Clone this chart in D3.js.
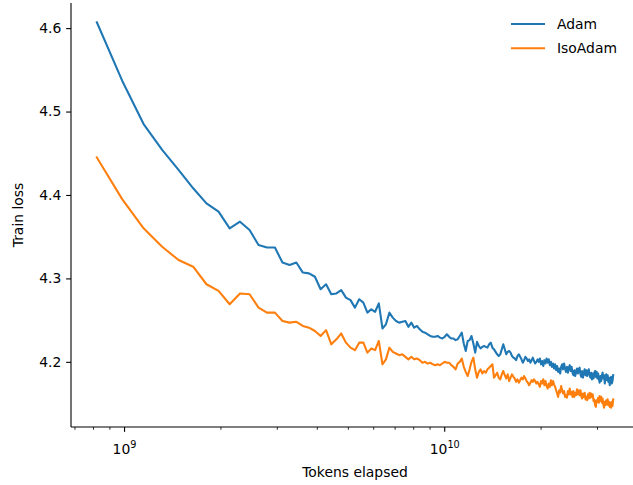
<!DOCTYPE html>
<html><head><meta charset="utf-8">
<script src="https://cdn.jsdelivr.net/npm/d3@7"></script>
<style>
html,body{margin:0;padding:0;background:#fff;}
svg{display:block;}
text{font-family:"DejaVu Sans",sans-serif;fill:#000;}
</style></head>
<body>
<svg id="chart" width="633" height="485"></svg>
<script>
// Tokens elapsed = step index * tokens per step
const tokensPerStep = 1.6384e8;
const firstStep = 5;

const seriesNames = ["Adam", "IsoAdam"];
const seriesColors = ["#1f77b4", "#ff7f0e"];

const adam = [
4.607,4.537,4.485,4.454,4.430,4.408,4.390,4.380,4.360,4.368,
4.358,4.340,4.337,4.337,4.319,4.316,4.319,4.307,4.306,4.302,
4.287,4.293,4.281,4.282,4.286,4.277,4.274,4.265,4.275,4.271,
4.259,4.263,4.260,4.270,4.240,4.245,4.259,4.253,4.249,4.247,
4.248,4.249,4.242,4.247,4.241,4.243,4.239,4.236,4.235,4.233,
4.231,4.230,4.230,4.231,4.229,4.228,4.230,4.233,4.230,4.228,
4.228,4.226,4.227,4.231,4.235,4.222,4.213,4.225,4.226,4.231,
4.222,4.211,4.224,4.219,4.216,4.218,4.219,4.218,4.217,4.221,
4.223,4.217,4.215,4.212,4.209,4.207,4.209,4.215,4.221,4.215,
4.209,4.212,4.213,4.211,4.207,4.205,
4.204,4.202,4.207,4.209,4.206,4.203,4.199,4.202,4.206,4.204,
4.201,4.203,4.199,4.202,4.205,4.201,4.198,4.200,4.203,4.200,
4.204,4.197,4.201,4.195,4.202,4.198,4.204,4.199,4.203,4.196,
4.200,4.194,4.198,4.192,4.197,4.190,4.195,4.188,4.192,4.186,
4.194,4.197,4.191,4.198,4.192,4.188,4.194,4.187,4.193,4.196,
4.189,4.194,4.187,4.184,4.190,4.183,4.188,4.192,4.186,4.191,
4.193,4.185,4.182,4.189,4.181,4.187,4.191,4.184,4.190,4.183,
4.188,4.191,4.184,4.181,4.187,4.179,4.186,4.180,4.187,4.189,
4.182,4.188,4.180,4.186,4.179,4.175,4.183,4.177,4.184,4.187,
4.180,4.184,4.174,4.182,4.185,4.178,4.184,4.176,4.181,4.172,
4.179,4.182,4.174,4.177,4.184
];

const isoAdam = [
4.445,4.395,4.360,4.338,4.322,4.314,4.293,4.285,4.269,4.282,
4.281,4.265,4.259,4.259,4.249,4.247,4.248,4.243,4.241,4.237,
4.231,4.238,4.221,4.227,4.234,4.223,4.217,4.214,4.223,4.223,
4.211,4.216,4.214,4.225,4.197,4.203,4.217,4.212,4.210,4.208,
4.209,4.206,4.203,4.206,4.203,4.204,4.202,4.199,4.200,4.198,
4.199,4.197,4.196,4.197,4.196,4.198,4.200,4.199,4.199,4.196,
4.194,4.191,4.198,4.200,4.204,4.194,4.188,4.183,4.191,4.200,
4.205,4.191,4.181,4.188,4.191,4.186,4.189,4.187,4.191,4.193,
4.195,4.197,4.181,4.184,4.187,4.181,4.179,4.185,4.189,4.184,
4.180,4.185,4.177,4.181,4.185,4.182,
4.180,4.176,4.179,4.175,4.178,4.181,4.179,4.183,4.180,4.177,
4.175,4.172,4.175,4.178,4.176,4.179,4.177,4.174,4.176,4.173,
4.170,4.177,4.174,4.179,4.172,4.177,4.171,4.168,4.174,4.170,
4.178,4.172,4.177,4.173,4.170,4.166,4.162,4.158,4.166,4.163,
4.171,4.166,4.162,4.165,4.158,4.160,4.157,4.165,4.161,4.168,
4.161,4.164,4.158,4.165,4.158,4.163,4.160,4.167,4.161,4.166,
4.160,4.166,4.159,4.156,4.162,4.158,4.163,4.155,4.158,4.154,
4.161,4.156,4.163,4.157,4.162,4.158,4.161,4.153,4.155,4.148,
4.146,4.154,4.152,4.157,4.151,4.159,4.153,4.158,4.151,4.156,
4.149,4.145,4.152,4.148,4.154,4.149,4.155,4.148,4.152,4.146,
4.151,4.145,4.152,4.147,4.155
];

const yTicks = [4.2, 4.3, 4.4, 4.5, 4.6];
const xMajorTicks = [1e9, 1e10];
const xMajorLabels = [["10","9"], ["10","10"]];
const xLabel = "Tokens elapsed";
const yLabel = "Train loss";

const svg = d3.select("#chart");
const plot = {left: 71, right: 639, top: 3, bottom: 427};

const xs = adam.map((_, i) => (firstStep + i) * tokensPerStep);
const allY = adam.concat(isoAdam);
// matplotlib-style 5% margins
const lx0 = Math.log10(d3.min(xs)), lx1 = Math.log10(d3.max(xs));
const padX = (lx1 - lx0) * 0.05;
const y0 = d3.min(allY), y1 = d3.max(allY);
const padY = (y1 - y0) * 0.05;

const x = d3.scaleLog().domain([Math.pow(10, lx0 - padX), Math.pow(10, lx1 + padX)]).range([plot.left, plot.right]);
const y = d3.scaleLinear().domain([y0 - padY, y1 + padY]).range([plot.bottom, plot.top]);

// lines
const line = d3.line().x(d => x(d[0])).y(d => y(d[1]));
[adam, isoAdam].forEach((s, j) => {
  svg.append("path")
    .datum(s.map((v, i) => [xs[i], v]))
    .attr("fill", "none")
    .attr("stroke", seriesColors[j])
    .attr("stroke-width", 2.08)
    .attr("stroke-linejoin", "round")
    .attr("stroke-linecap", "square")
    .attr("d", line);
});

// y axis
const yAxis = d3.axisLeft(y).tickValues(yTicks).tickFormat(d3.format(".1f")).tickSize(4.86).tickPadding(4.86);
const gy = svg.append("g").attr("transform", `translate(${plot.left},0)`).call(yAxis);
gy.select(".domain").remove();
gy.selectAll("line").attr("stroke", "#000").attr("stroke-width", 1.1);
gy.selectAll("text").attr("font-size", "13.9px").attr("font-family", "DejaVu Sans").attr("fill", "#000");
svg.append("line").attr("x1", plot.left).attr("x2", plot.left).attr("y1", plot.top).attr("y2", plot.bottom)
  .attr("stroke", "#000").attr("stroke-width", 1.1);

// x axis minor ticks
const [dx0, dx1] = x.domain();
const minor = [];
for (let e = Math.floor(Math.log10(dx0)); e <= Math.ceil(Math.log10(dx1)); e++) {
  for (let m = 2; m <= 9; m++) {
    const v = m * Math.pow(10, e);
    if (v >= dx0 && v <= dx1) minor.push(v);
  }
}
const gx = svg.append("g").attr("transform", `translate(0,${plot.bottom})`);
gx.selectAll("line.minor").data(minor).join("line").attr("class", "minor")
  .attr("x1", d => x(d)).attr("x2", d => x(d)).attr("y1", 0).attr("y2", 2.78)
  .attr("stroke", "#000").attr("stroke-width", 0.83);
gx.selectAll("line.major").data(xMajorTicks).join("line").attr("class", "major")
  .attr("x1", d => x(d)).attr("x2", d => x(d)).attr("y1", 0).attr("y2", 4.86)
  .attr("stroke", "#000").attr("stroke-width", 1.1);
const lbl = gx.selectAll("text.major").data(xMajorTicks).join("text").attr("class", "major")
  .attr("x", d => x(d)).attr("y", 27).attr("text-anchor", "middle").attr("font-size", "13.9px");
lbl.append("tspan").text((d, i) => xMajorLabels[i][0]);
lbl.append("tspan").attr("dy", -6).attr("font-size", "9.7px").text((d, i) => xMajorLabels[i][1]);
svg.append("line").attr("x1", plot.left).attr("x2", plot.right).attr("y1", plot.bottom).attr("y2", plot.bottom)
  .attr("stroke", "#000").attr("stroke-width", 1.1);

// axis labels
svg.append("text").attr("x", (plot.left + plot.right) / 2).attr("y", 477).attr("text-anchor", "middle")
  .attr("font-size", "13.9px").text(xLabel);
svg.append("text").attr("transform", `translate(23,${(plot.top + plot.bottom) / 2}) rotate(-90)`)
  .attr("text-anchor", "middle").attr("font-size", "13.9px").text(yLabel);

// legend
const lg = svg.append("g");
seriesNames.forEach((n, j) => {
  const ly = 24 + j * 24.3;
  lg.append("line").attr("x1", 511).attr("x2", 545).attr("y1", ly).attr("y2", ly)
    .attr("stroke", seriesColors[j]).attr("stroke-width", 2.08);
  lg.append("text").attr("x", 557).attr("y", ly + 5).attr("font-size", "13.9px").text(n);
});
</script>
</body></html>
